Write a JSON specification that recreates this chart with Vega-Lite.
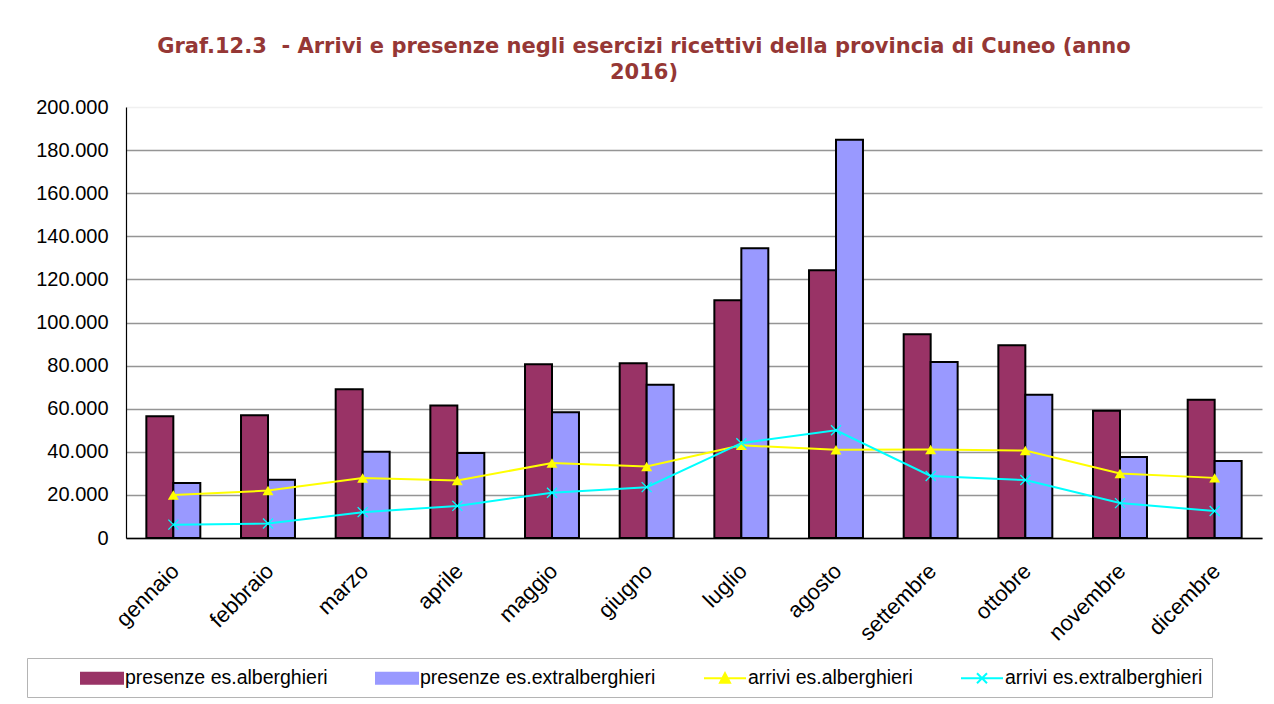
{
  "$schema": "https://vega.github.io/schema/vega-lite/v6.json",
  "width": 1136,
  "height": 431,
  "padding": {"left": 26, "top": 36, "right": 10, "bottom": 5},
  "background": "white",
  "title": {
    "text": ["Graf.12.3\u00a0 - Arrivi e presenze negli esercizi ricettivi della provincia di Cuneo (anno", "2016)"],
    "font": "DejaVu Sans",
    "fontSize": 21,
    "fontWeight": "bold",
    "color": "#953735",
    "lineHeight": 26,
    "dx": -50,
    "offset": 14
  },
  "config": {
    "locale": {"number": {"decimal": ",", "thousands": ".", "grouping": [3], "currency": ["€", ""]}},
    "view": {"stroke": null},
    "axis": {"labelFont": "Liberation Sans", "labelFontSize": 20, "labelColor": "black", "ticks": false}
  },
  "data": {
    "values": [
      {"mese": "gennaio", "serie": "presenze es.alberghieri", "valore": 56500},
      {"mese": "febbraio", "serie": "presenze es.alberghieri", "valore": 57000},
      {"mese": "marzo", "serie": "presenze es.alberghieri", "valore": 69000},
      {"mese": "aprile", "serie": "presenze es.alberghieri", "valore": 61500},
      {"mese": "maggio", "serie": "presenze es.alberghieri", "valore": 80600},
      {"mese": "giugno", "serie": "presenze es.alberghieri", "valore": 81100},
      {"mese": "luglio", "serie": "presenze es.alberghieri", "valore": 110300},
      {"mese": "agosto", "serie": "presenze es.alberghieri", "valore": 124300},
      {"mese": "settembre", "serie": "presenze es.alberghieri", "valore": 94600},
      {"mese": "ottobre", "serie": "presenze es.alberghieri", "valore": 89500},
      {"mese": "novembre", "serie": "presenze es.alberghieri", "valore": 59000},
      {"mese": "dicembre", "serie": "presenze es.alberghieri", "valore": 64100},
      {"mese": "gennaio", "serie": "presenze es.extralberghieri", "valore": 25500},
      {"mese": "febbraio", "serie": "presenze es.extralberghieri", "valore": 27000},
      {"mese": "marzo", "serie": "presenze es.extralberghieri", "valore": 40000},
      {"mese": "aprile", "serie": "presenze es.extralberghieri", "valore": 39400},
      {"mese": "maggio", "serie": "presenze es.extralberghieri", "valore": 58400},
      {"mese": "giugno", "serie": "presenze es.extralberghieri", "valore": 71100},
      {"mese": "luglio", "serie": "presenze es.extralberghieri", "valore": 134500},
      {"mese": "agosto", "serie": "presenze es.extralberghieri", "valore": 184800},
      {"mese": "settembre", "serie": "presenze es.extralberghieri", "valore": 81700},
      {"mese": "ottobre", "serie": "presenze es.extralberghieri", "valore": 66500},
      {"mese": "novembre", "serie": "presenze es.extralberghieri", "valore": 37600},
      {"mese": "dicembre", "serie": "presenze es.extralberghieri", "valore": 35700},
      {"mese": "gennaio", "serie": "arrivi es.alberghieri", "valore": 20000},
      {"mese": "febbraio", "serie": "arrivi es.alberghieri", "valore": 22000},
      {"mese": "marzo", "serie": "arrivi es.alberghieri", "valore": 27800},
      {"mese": "aprile", "serie": "arrivi es.alberghieri", "valore": 26700},
      {"mese": "maggio", "serie": "arrivi es.alberghieri", "valore": 34800},
      {"mese": "giugno", "serie": "arrivi es.alberghieri", "valore": 33200},
      {"mese": "luglio", "serie": "arrivi es.alberghieri", "valore": 43000},
      {"mese": "agosto", "serie": "arrivi es.alberghieri", "valore": 40900},
      {"mese": "settembre", "serie": "arrivi es.alberghieri", "valore": 41100},
      {"mese": "ottobre", "serie": "arrivi es.alberghieri", "valore": 40600},
      {"mese": "novembre", "serie": "arrivi es.alberghieri", "valore": 29900},
      {"mese": "dicembre", "serie": "arrivi es.alberghieri", "valore": 27900},
      {"mese": "gennaio", "serie": "arrivi es.extralberghieri", "valore": 6200},
      {"mese": "febbraio", "serie": "arrivi es.extralberghieri", "valore": 6700},
      {"mese": "marzo", "serie": "arrivi es.extralberghieri", "valore": 12000},
      {"mese": "aprile", "serie": "arrivi es.extralberghieri", "valore": 14900},
      {"mese": "maggio", "serie": "arrivi es.extralberghieri", "valore": 21000},
      {"mese": "giugno", "serie": "arrivi es.extralberghieri", "valore": 23600},
      {"mese": "luglio", "serie": "arrivi es.extralberghieri", "valore": 44000},
      {"mese": "agosto", "serie": "arrivi es.extralberghieri", "valore": 50000},
      {"mese": "settembre", "serie": "arrivi es.extralberghieri", "valore": 28800},
      {"mese": "ottobre", "serie": "arrivi es.extralberghieri", "valore": 26900},
      {"mese": "novembre", "serie": "arrivi es.extralberghieri", "valore": 16200},
      {"mese": "dicembre", "serie": "arrivi es.extralberghieri", "valore": 12500}
    ]
  },
  "encoding": {
    "x": {
      "field": "mese",
      "type": "nominal",
      "sort": ["gennaio", "febbraio", "marzo", "aprile", "maggio", "giugno", "luglio", "agosto", "settembre", "ottobre", "novembre", "dicembre"],
      "scale": {"paddingInner": 0.43, "paddingOuter": 0.215},
      "axis": {"title": null, "labelAngle": -45, "labelPadding": 22, "labelOffset": -5, "labelFontSize": 22, "domainColor": "black", "domainWidth": 1.5, "grid": false}
    },
    "y": {
      "field": "valore",
      "type": "quantitative",
      "scale": {"domain": [0, 200000], "nice": false},
      "axis": {
        "title": null,
        "values": [0, 20000, 40000, 60000, 80000, 100000, 120000, 140000, 160000, 180000, 200000],
        "format": ",d",
        "labelPadding": 18,
        "domainColor": "black",
        "domainWidth": 1.2,
        "gridColor": {"condition": {"test": "datum.value == 200000", "value": "#f0f0f0"}, "value": "#959595"},
        "gridWidth": 1.6
      }
    },
    "color": {
      "field": "serie",
      "type": "nominal",
      "scale": {
        "domain": ["presenze es.alberghieri", "presenze es.extralberghieri", "arrivi es.alberghieri", "arrivi es.extralberghieri"],
        "range": ["#993366", "#9999FF", "#FFFF00", "#00FFFF"]
      },
      "legend": {
        "title": null,
        "orient": "none",
        "legendX": -99,
        "legendY": 551,
        "direction": "horizontal",
        "padding": 9,
        "strokeColor": "#b4b4b4",
        "labelFont": "Liberation Sans",
        "labelFontSize": 19.5,
        "labelColor": "black",
        "symbolOffset": 55,
        "labelOffset": 12,
        "labelLimit": 400,
        "columnPadding": 3,
        "symbolSize": 400,
        "symbolStrokeColor": "black",
        "symbolStrokeWidth": 2,
        "encode": {
          "symbols": {
            "update": {
              "shape": {"signal": "indexof(datum.value, 'presenze') === 0 ? 'M-2.1,-0.55H2.1V0.55H-2.1Z' : datum.value === 'arrivi es.alberghieri' ? 'M-2.1,0H2.1M0,-0.5L0.5,0.45H-0.5Z' : 'M-2.1,0H2.1M-0.5,-0.5L0.5,0.5M-0.5,0.5L0.5,-0.5'"},
              "fill": {"signal": "datum.value === 'presenze es.alberghieri' ? '#993366' : datum.value === 'presenze es.extralberghieri' ? '#9999FF' : datum.value === 'arrivi es.alberghieri' ? '#FFFF00' : 'transparent'"},
              "stroke": {"signal": "indexof(datum.value, 'presenze') === 0 ? 'black' : datum.value === 'arrivi es.alberghieri' ? '#FFFF00' : '#00FFFF'"},
              "strokeWidth": {"value": 2},
              "opacity": {"value": 1},
              "fillOpacity": {"value": 1},
              "strokeOpacity": {"value": 1}
            }
          }
        }
      }
    }
  },
  "layer": [
    {
      "transform": [{"filter": "indexof(datum.serie, 'presenze') === 0"}],
      "mark": {"type": "bar", "stroke": "black", "strokeWidth": 2, "opacity": 1},
      "encoding": {
        "xOffset": {
          "field": "serie",
          "type": "nominal",
          "sort": ["presenze es.alberghieri", "presenze es.extralberghieri"],
          "scale": {"paddingInner": 0, "paddingOuter": 0}
        }
      }
    },
    {
      "transform": [{"filter": "indexof(datum.serie, 'arrivi') === 0"}],
      "mark": {"type": "line", "strokeWidth": 2},
      "encoding": {"detail": {"field": "serie"}}
    },
    {
      "transform": [{"filter": "datum.serie === 'arrivi es.alberghieri'"}],
      "mark": {"type": "point", "shape": "triangle-up", "filled": true, "size": 120, "opacity": 1}
    },
    {
      "transform": [{"filter": "datum.serie === 'arrivi es.extralberghieri'"}],
      "mark": {"type": "point", "shape": "M-1,-1L1,1M-1,1L1,-1", "filled": false, "size": 100, "strokeWidth": 1.3, "opacity": 1}
    }
  ]
}
